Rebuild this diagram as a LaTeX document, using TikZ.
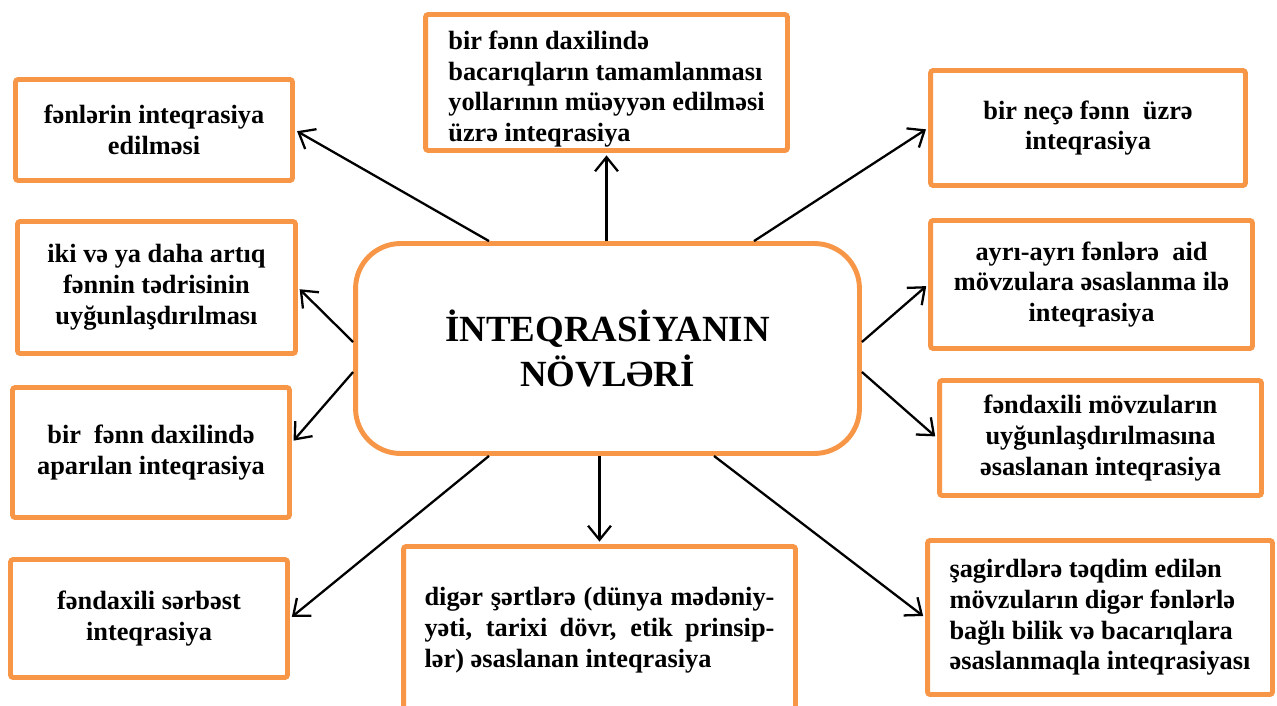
\documentclass[tikz,border=0pt]{standalone}
\usepackage{fontspec}
\setmainfont{Liberation Serif}
\usepackage{xcolor}
\usetikzlibrary{positioning}
\usetikzlibrary{arrows.meta}
\usetikzlibrary{calc}

\definecolor{boxorange}{RGB}{247,150,70}

\begin{document}
\begin{tikzpicture}[
    x=0.02cm, y=-0.02cm,
    box/.style={draw=boxorange, line width=2.8pt, fill=white, rounded corners=1.5pt, align=center,
        font=\fontsize{15}{17.5}\selectfont\bfseries},
    hub/.style={box, rounded corners=0.9cm, minimum width=10.08cm, minimum height=4.2cm,
        font=\fontsize{21}{26}\selectfont\bfseries},
    link/.style={-{Straight Barb[length=8pt,width=13pt]}, line width=1.3pt, shorten >=1.4pt}
]
    \useasboundingbox (0,0) rectangle (1277,706);
    \clip (0,0) rectangle (1277,706);

    % Central node
    \node[hub] (INV) at (607.5,348.5) {İNTEQRASİYANIN\\NÖVLƏRİ};

    % Top
    \node[box, align=left, inner ysep=1pt, minimum width=7.24cm, minimum height=2.72cm] (BFD) at (606.5,82.5)
    {\rule{0pt}{18pt}bir fənn daxilində\\bacarıqların tamamlanması\\yollarının müəyyən edilməsi\\üzrə inteqrasiya};

    % Left column
    \node[box, minimum width=5.54cm, minimum height=2.02cm] (FIE) at (154,130)
    {fənlərin inteqrasiya\\edilməsi};
    \node[box, minimum width=5.56cm, minimum height=2.64cm] (IVY) at (156.5,287.5)
    {iki və ya daha artıq\\fənnin tədrisinin\\uyğunlaşdırılması};
    \node[box, minimum width=5.54cm, minimum height=2.6cm] (BFA) at (151,452.5)
    {bir~ fənn daxilində\\aparılan inteqrasiya};
    \node[box, minimum width=5.54cm, minimum height=2.36cm] (FSI) at (149,618.5)
    {fəndaxili sərbəst\\inteqrasiya};

    % Right column
    \node[box, minimum width=6.3cm, minimum height=2.3cm] (BNF) at (1088,128)
    {bir neçə fənn~ üzrə\\inteqrasiya};
    \node[box, minimum width=6.44cm, minimum height=2.56cm] (AAF) at (1091.5,284.5)
    {ayrı-ayrı fənlərə~ aid\\mövzulara əsaslanma ilə\\inteqrasiya};
    \node[box, minimum width=6.44cm, minimum height=2.3cm] (FMU) at (1100.5,438)
    {fəndaxili mövzuların\\uyğunlaşdırılmasına\\əsaslanan inteqrasiya};
    \node[box, align=left, minimum width=6.9cm, minimum height=3.08cm] (SMD) at (1100,617.5)
    {şagirdlərə təqdim edilən\\mövzuların digər fənlərlə\\bağlı bilik və bacarıqlara\\əsaslanmaqla inteqrasiyası};

    % Bottom
    \node[box, align=justify, text width=7.0cm, minimum width=7.84cm, minimum height=3.34cm] (DSE) at (599.5,630)
    {digər şərtlərə (dünya mədəniy-\linebreak yəti, tarixi dövr, etik prinsip-\linebreak lər) əsaslanan inteqrasiya};

    % Arrows
    \draw[link] ($(INV.north)+(-118.5,0)$) -- (FIE.east);
    \draw[link] (BFD.south |- INV.north) -- (BFD.south);
    \draw[link] ($(INV.north)+(146.5,0)$) -- (BNF.west);
    \draw[link] ($(INV.west)+(0,-6.5)$) -- (IVY.east);
    \draw[link] ($(INV.west)+(0,23.5)$) -- ($(BFA.east)+(0,-10)$);
    \draw[link] ($(INV.south)+(-118.5,0)$) -- (FSI.east);
    \draw[link] (DSE.north |- INV.south) -- (DSE.north);
    \draw[link] ($(INV.east)+(0,-6.5)$) -- (AAF.west);
    \draw[link] ($(INV.east)+(0,23.5)$) -- (FMU.west);
    \draw[link] ($(INV.south)+(106.5,0)$) -- (SMD.west);
\end{tikzpicture}
\end{document}
